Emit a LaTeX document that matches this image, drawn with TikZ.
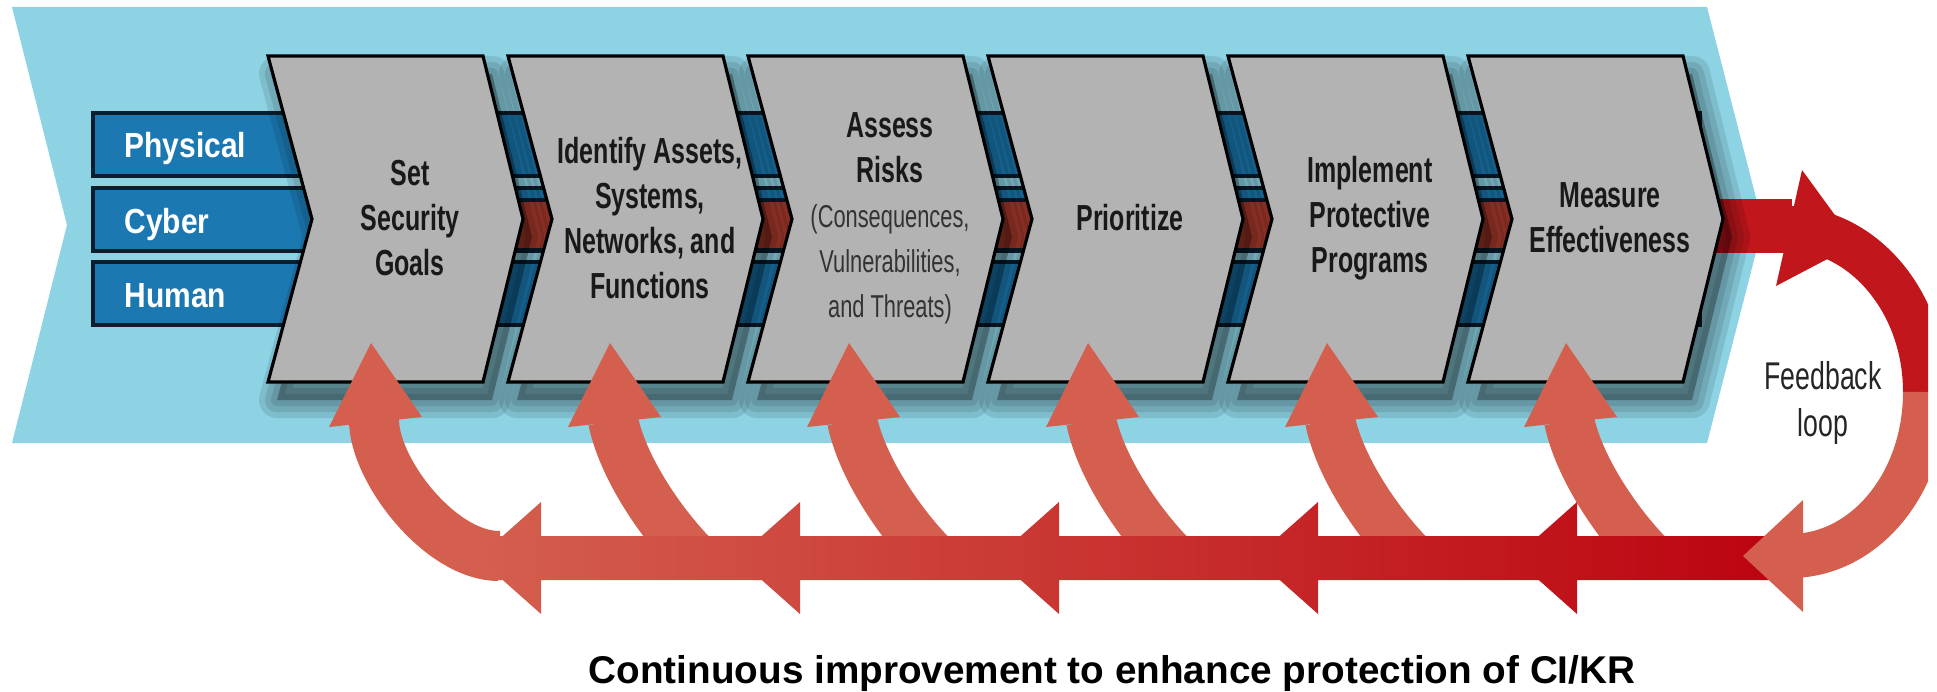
\documentclass[tikz,border=0pt]{standalone}
\usepackage{fontspec}
\setmainfont{Liberation Sans}[FakeStretch=0.69]
\newfontfamily\barfont{Liberation Sans}[FakeStretch=0.86]
\newfontfamily\capfont{Liberation Sans}

\definecolor{skyblue}{RGB}{141,211,228}
\definecolor{barblue}{RGB}{27,120,176}
\definecolor{barline}{RGB}{10,30,45}
\definecolor{chevgray}{RGB}{179,179,179}
\definecolor{gapred}{RGB}{168,58,44}
\definecolor{salmon}{RGB}{212,95,78}
\definecolor{deepred}{RGB}{188,4,16}
\definecolor{loopred}{RGB}{192,22,28}

\newcommand\riskfont{\fontsize{9}{12}\selectfont\mdseries\color{black!80}}

\tikzset{
  bar/.style={fill=barblue, draw=barline, line width=1pt},
  barlabel/.style={text=white, font=\barfont\fontsize{9.9}{12}\selectfont\bfseries,
                   anchor=base west, inner sep=0pt},
  chevbox/.style={fill=chevgray, draw=black, line width=0.9pt},
  chevshadow/.style={draw=black, opacity=0.1, line join=round},
  chevlabel/.style={align=center, inner sep=0pt, text=black!90,
                    font=\fontsize{10.3}{12.8}\selectfont\bfseries},
  upshaft/.style={draw=salmon, line width=5mm},
  loopband/.style={line width=4.4mm},
  fbtext/.style={align=center, inner sep=0pt, text=black!85,
                 font=\fontsize{11}{13.4}\selectfont},
  captext/.style={anchor=base, inner sep=0pt,
                  font=\capfont\fontsize{11}{13}\selectfont\bfseries}
}

\begin{document}
\begin{tikzpicture}[x=0.01cm, y=-0.01cm]
\useasboundingbox (0,0) rectangle (1937,691);

% light blue background arrow
\fill[skyblue] (12,7) -- (1707,7) -- (1763,225) -- (1707,443)
  -- (12,443) -- (67,225) -- cycle;

% layers running behind the steps
\foreach \ya/\nm in {113/Physical, 188/Cyber, 262/Human} {
  \draw[bar] (93,\ya) rectangle (1700,\ya+63);
  \node[barlabel] (lbl-\nm) at (124,\ya+45) {\nm};
}
\foreach \i in {1,...,5}
  \draw[fill=gapred, draw=barline, line width=1pt] (238+240*\i,200) rectangle (330+240*\i,250);

% feedback loop, upper half
\begin{scope}
  \clip (0,0) rectangle (1928,691);
  \coordinate (out) at (1700,226);
  \coordinate (loopR) at (1925,392);
  \draw[line width=5.3mm, draw=loopred] (out) -- (1792,226);
  \draw[loopband, draw=loopred] (1785,228)
    .. controls +(78,0) and +(0,-90) .. (loopR);
  \draw[loopband, draw=salmon] (loopR)
    .. controls +(0,91) and +(75,0) .. (1790,556) -- (1775,556);
\end{scope}
\fill[loopred] (1802,170) -- (1856,244) -- (1776,286) -- cycle;

% shadows of the steps
\foreach \i in {0,...,5} {
  \fill[black, opacity=0.3, shift={(9+240*\i,18)}]
    (268,56) -- ++(215,0) -- ++(40,163) -- ++(-40,163) -- ++(-215,0) -- ++(44,-163) -- cycle;
  \foreach \w in {3.6,2.4,1.2}
    \draw[chevshadow, line width=\w mm, shift={(9+240*\i,18)}]
      (268,56) -- ++(215,0) -- ++(40,163) -- ++(-40,163) -- ++(-215,0) -- ++(44,-163) -- cycle;
}

% the six steps
\foreach \lbl/\nm [count=\i from 0] in {%
    {Set\\Security\\Goals}/goals,
    {Identify Assets,\\Systems,\\Networks, and\\Functions}/assets,
    {Assess\\Risks\\\riskfont(Consequences,\\\riskfont Vulnerabilities,\\\riskfont and Threats)}/risks,
    {Prioritize}/prioritize,
    {Implement\\Protective\\Programs}/implement,
    {Measure\\Effectiveness}/measure} {
  \draw[chevbox, shift={(240*\i,0)}]
    (268,56) -- ++(215,0) -- ++(40,163) -- ++(-40,163) -- ++(-215,0) -- ++(44,-163) -- cycle;
  \node[chevlabel] (\nm) at (410+240*\i,218) {\lbl};
}

% curved arrows back up to each step
\foreach \i in {0,...,5} {
  \coordinate (neck\i) at (374+239*\i,420);
  \coordinate (tip\i) at (371+239*\i,343);
  \ifnum\i=0
    \coordinate (foot\i) at (499,556);
    \draw[upshaft] (neck\i) .. controls +(0,50) and +(-59,0) .. (foot\i);
  \else
    \coordinate (foot\i) at (456+239*\i,558);
    \draw[upshaft] (neck\i) .. controls +(10,49) and +(-32,-32) .. (foot\i);
  \fi
  \fill[salmon] (tip\i) -- ++(-42,84) -- ++(93,-10) -- cycle;
}

% return bar with its heads
\shade[left color=salmon, right color=deepred]
  (497,536) -- (1770,536) -- (1770,580) -- (497,580) -- cycle
  \foreach \k in {0,...,4} { (541+259*\k,502) -- ++(0,112) -- ++(-63,-56) -- cycle };

% end of the feedback loop
\fill[salmon] (1743,556) -- (1803,500) -- (1803,612) -- cycle;

\node[fbtext] (fb) at (1823,403) {Feedback\\loop};
\node[captext] (caption) at (1112,683) {Continuous improvement to enhance protection of CI/KR};
\end{tikzpicture}
\end{document}
